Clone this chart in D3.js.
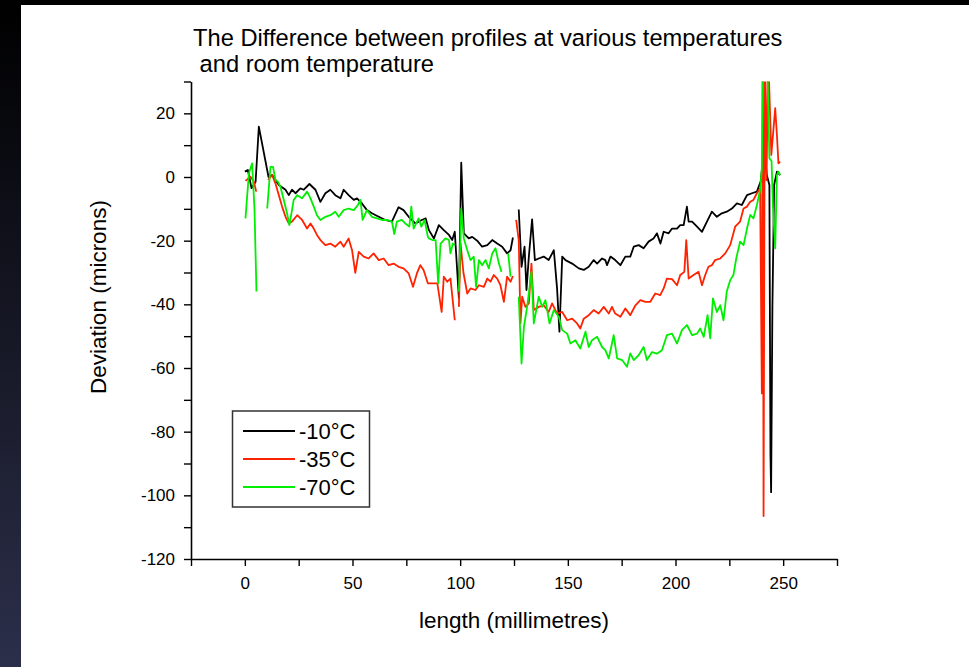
<!DOCTYPE html>
<html>
<head>
<meta charset="utf-8">
<script src="https://cdn.jsdelivr.net/npm/d3@7"></script>
<style>
  body { margin: 0; background: #000; }
  svg { display: block; }
  text { font-family: "Liberation Sans", Arial, sans-serif; fill: #000; }
</style>
</head>
<body>
<svg id="chart"></svg>
<script>
const width = 969;
const height = 667;

// Data: [length mm, deviation microns], null = break in the trace
const minus10 = [[0,1.7],[1.4,2.2],[3.1,-3.5],[5,-1.5],[6.5,15.8],[11,0],[12.7,0.6],[15.8,-2.5],[18.9,-4],[20.4,-5.7],[21.9,-4],[23.5,-5.1],[25.8,-3.6],[27.4,-4],[30,-2.2],[32.8,-4],[35.1,-7.8],[37.4,-5.1],[39.7,-4],[42,-5.7],[44.4,-6.7],[45.9,-4],[48.2,-5.7],[50.6,-7.2],[52.1,-6.7],[54.4,-8.3],[56.7,-10.4],[59,-11.4],[62.2,-12.5],[65.2,-13.5],[68.3,-14],[71.4,-9.5],[73.7,-10.4],[76.1,-12.5],[79.2,-14.6],[82.2,-13.5],[84,-13],[85.5,-16.7],[87.8,-19.3],[90.1,-15.1],[92.4,-16.7],[94.8,-18.2],[96.3,-19.8],[97.5,-17.2],[99.4,-38],[100.5,4.5],[101.7,-17.7],[104,-19.3],[105.6,-18.8],[107.9,-20],[110.2,-21.9],[112.6,-21.4],[114.9,-19.8],[117.2,-20.9],[119.5,-21.9],[121.8,-24],[123.4,-23],[124.5,-19],[125.5,null],[127.2,-10.2],[128.5,-28.2],[129.9,-21.9],[130.8,-35.5],[131.9,-25],[133.4,-13.3],[134.7,-26.1],[136.5,-25.6],[138.8,-25],[141.1,-26.1],[143.5,-23],[145,-35],[146.1,-48.6],[147.4,-25],[148.9,-26.1],[152,-27.2],[155.1,-28.7],[157.4,-29.2],[159.7,-28.2],[162,-26.1],[163.6,-27.2],[165.9,-25.6],[167.4,-26.1],[168.2,-27.7],[169.8,-25],[172,-26.1],[174.4,-27.7],[176.7,-25],[179,-25],[180.6,-21.9],[182.9,-21.4],[185.2,-22.4],[187.5,-20.3],[189.8,-19.3],[191.4,-17.7],[193,-20.9],[194.5,-17.2],[196.8,-17.7],[198.4,-16.2],[200.7,-16.2],[202.2,-15.1],[203.8,-15.1],[205.3,-9.3],[206.1,-14],[207.7,-14],[210,-15.6],[212.3,-17.2],[214.6,-14],[216.9,-10.9],[219.2,-12.5],[221.5,-11.4],[223.8,-10.9],[226.2,-9.9],[228.5,-8.3],[230.8,-8.8],[233.2,-5.7],[235.5,-5.1],[237.8,-4.6],[239.6,-1.3],[241.2,9.5],[242.4,0.6],[243.6,-2.5],[244.1,-87],[244.4,-99],[245,-41],[245.8,-2.5],[247.1,1.7],[248.6,0.6]];

const minus35 = [[0.3,-1.2],[2.6,0.1],[4.2,-1.5],[5.3,-4.6],[8,null],[10.8,-0.9],[12.7,0.6],[14.2,-2],[15.8,-5.7],[17.3,-9.3],[18.9,-12.5],[20.4,-14.6],[21.9,-14],[24.3,-12],[26.6,-13.5],[28.9,-16.2],[30.5,-14.6],[32,-16.2],[33.5,-18.2],[35.1,-19.8],[37.4,-21.4],[39.7,-20.9],[42,-21.9],[44.4,-20.3],[45.9,-21.9],[48.2,-19.3],[49.8,-23],[51.3,-30.1],[52.9,-23.5],[55.2,-25],[57.5,-25.6],[59.8,-24],[62.2,-26.1],[64.5,-25.6],[66.8,-27.7],[69.1,-27.2],[71.4,-28.2],[73.7,-28.7],[76.1,-30.3],[78.1,-34.5],[79.9,-30.3],[81.5,-27.7],[83,-29.2],[85,-33.4],[87.1,-33.4],[89.4,-33.4],[91.4,-42.4],[92.4,-31.3],[94,-32.9],[95.5,-31.9],[97.5,-45],[98.5,null],[99.4,-40.8],[100.2,-20.9],[101.5,-30],[103.3,-36.6],[104.8,-35],[107.1,-35.5],[108.7,-34],[111,-34.5],[112.6,-31.9],[114.1,-32.9],[115.6,-30.8],[117.2,-31.9],[118.7,-34],[120.3,-39.2],[121.8,-31.3],[123.4,-32.9],[124.5,-31.1],[125.3,null],[126,-13.5],[127.2,-19.8],[128,-46],[128.8,-37.6],[130.3,-40.8],[131.9,-39.7],[133.1,-27.2],[134.2,-41.8],[136.5,-40.8],[138.8,-40.3],[141.1,-42.4],[142.7,-39.7],[145,-42.9],[147.4,-42.4],[149.7,-45],[152,-44.5],[154.3,-46],[155.8,-47.6],[157.4,-44.5],[159.7,-43.4],[162,-41.8],[164.3,-42.9],[166.7,-40.8],[169,-42.9],[170.5,-40.8],[172,-42.9],[174.4,-43.9],[176.7,-41.3],[179,-43.4],[181.4,-40.3],[183.7,-38.7],[186,-39.2],[188.3,-39.2],[190.6,-36.6],[192.9,-37.1],[194.5,-35],[196,-31.9],[198.4,-32.1],[200.7,-34],[202.2,-30.8],[204.1,-29.8],[205,-19.8],[206.1,-31.9],[208.4,-30.8],[210.7,-29.8],[212.3,-34],[213.8,-30.8],[215.3,-28.2],[216.9,-27.7],[218.4,-26.1],[220.8,-25.6],[223.1,-24],[225.4,-21.4],[227.7,-15.6],[230,-14],[231.6,-9.9],[233.2,-9.3],[234.7,-7.8],[236.2,-7.2],[237.8,-5.1],[239.3,-3.6],[240.1,-68],[240.5,40],[240.9,-106.5],[241.5,40],[242.3,-1],[243,40],[244.5,6.9],[246.3,21.6],[247.1,13.2],[247.8,4.3],[248.6,4.8]];

const minus70 = [[0.3,-13],[1.9,1.2],[3.4,4.3],[4.5,-10.4],[5.4,-36],[8,null],[10.4,-9.9],[11.9,3.2],[13.1,3.2],[14.2,-0.9],[15.4,-1.5],[16.5,-3],[18.1,-7.2],[19.6,-11.4],[20.7,-15.1],[21.9,-10.4],[22.7,-7.2],[24.3,-5.7],[26.6,-6.7],[28.9,-4.6],[30.5,-6.7],[32,-9.3],[33.5,-12],[35.1,-13.5],[37.4,-12.5],[39.7,-12],[42,-10.9],[43.6,-12.5],[45.9,-10.4],[48.2,-9.9],[50.6,-10.4],[52.5,-8.8],[53.7,-7.2],[54.7,-13.5],[56.7,-10.4],[59,-12.5],[61.4,-13],[63.7,-13.5],[66,-13.5],[68.3,-14],[69.4,-17.9],[70.6,-14],[72.9,-13.5],[74.5,-14.6],[76.4,-15.6],[77.3,-9.3],[78.4,-16.2],[80.7,-13],[82,-15.6],[83.5,-13.5],[85,-18.8],[85.5,-19.3],[87.1,-19.8],[88.6,-19.8],[89.8,-33.4],[90.9,-20.9],[93.2,-19.3],[94.8,-19.8],[95.5,-24],[96.6,-20.9],[97.5,-21.4],[98.5,null],[99.4,-36],[100.5,-9.9],[101.7,-19.3],[103.3,-23],[104.8,-26.1],[106.3,-25],[107.4,-34.5],[108.7,-26.1],[110.2,-27.7],[111.8,-26.1],[113.3,-28.7],[114.9,-24],[116.4,-22.4],[118,-27.2],[119.2,-29.8],[120.5,null],[122.3,-24],[123.4,-31.3],[125.3,null],[127.2,-37.6],[128.5,-58.6],[129.6,-47.1],[131.1,-40.8],[133.1,-29.8],[134.2,-46],[136.5,-37.6],[138.1,-40.8],[139.6,-38.7],[141.5,-46],[143.5,-41.8],[145.8,-43.9],[147.4,-48.1],[149.7,-49.2],[151.2,-52.3],[153.5,-51.3],[155.8,-53.9],[158.2,-48.6],[159.7,-53.4],[161.2,-51.3],[163.6,-50.2],[165.9,-53.4],[167.4,-54.4],[169,-57],[170.5,-52.3],[171.3,-49.7],[172.9,-57],[175.2,-57.5],[177.5,-59.6],[179,-55.4],[180.6,-57.5],[182.9,-56],[185.2,-53.4],[186.7,-57.5],[189.1,-55],[191.4,-55.5],[193.7,-54.4],[196,-49.7],[198.4,-49.2],[200.7,-52.3],[203,-48.1],[205.3,-46.5],[207.7,-49.7],[210,-49.2],[211.5,-47.6],[213.1,-50.2],[214.9,-43.4],[216.1,-50.7],[217.4,-38.1],[219.2,-42.4],[220.8,-40.3],[222.3,-45],[223.8,-36],[225.4,-32.4],[226.9,-30.8],[228.2,-25.6],[230,-20.3],[231.6,-21.4],[233.2,-16.2],[234.7,-11.9],[236.2,-13],[237.8,-8.8],[239.3,-4.1],[240.1,2.7],[240.6,40],[241.5,40],[242.5,40],[243.6,5.9],[244.6,5],[245.3,-10],[246.3,-22.4],[247.1,0.6],[247.8,1.7],[248.6,0.6]];

const seriesNames = ["-10°C", "-35°C", "-70°C"];
const seriesColors = ["#000000", "#ff2200", "#00ee00"];
const seriesData = [minus10, minus35, minus70];

const xTicks = d3.range(-25, 276, 25);
const yTicks = d3.range(-120, 31, 10);

const svg = d3.select("#chart")
  .attr("width", width)
  .attr("height", height);

// Slide background: black with a bluish strip on the left
const defs = svg.append("defs");
const grad = defs.append("linearGradient")
  .attr("id", "strip")
  .attr("x1", 0).attr("y1", 0).attr("x2", 0).attr("y2", 1);
grad.append("stop").attr("offset", "0%").attr("stop-color", "#000000");
grad.append("stop").attr("offset", "100%").attr("stop-color", "#2c2f4a");

svg.append("rect").attr("width", width).attr("height", height).attr("fill", "#000");
svg.append("rect").attr("x", 0).attr("y", 0).attr("width", 21).attr("height", height).attr("fill", "url(#strip)");
svg.append("rect").attr("x", 21).attr("y", 5).attr("width", width - 21).attr("height", height - 5).attr("fill", "#fff");

// Plot area
const plot = { left: 191, right: 837, top: 81.5, bottom: 559 };

const x = d3.scaleLinear().domain([-25, 275]).range([plot.left, plot.right]);
const y = d3.scaleLinear().domain([-120, 30]).range([plot.bottom, plot.top]);

defs.append("clipPath").attr("id", "clip")
  .append("rect")
  .attr("x", plot.left).attr("y", plot.top)
  .attr("width", plot.right - plot.left).attr("height", plot.bottom - plot.top);

// Lines
const line = d3.line()
  .defined(d => d[1] !== null)
  .x(d => x(d[0]))
  .y(d => y(d[1]));

const lines = svg.append("g").attr("clip-path", "url(#clip)");
seriesData.forEach((data, i) => {
  lines.append("path")
    .datum(data)
    .attr("fill", "none")
    .attr("stroke", seriesColors[i])
    .attr("stroke-width", 1.8)
    .attr("stroke-linejoin", "round")
    .attr("d", line);
});

// Axes
const xAxis = svg.append("g")
  .attr("transform", `translate(0,${plot.bottom})`)
  .call(d3.axisBottom(x)
    .tickValues(xTicks)
    .tickSize(7)
    .tickSizeOuter(0)
    .tickPadding(11)
    .tickFormat(d => (d % 50 === 0 && d >= 0 && d <= 250) ? String(d) : ""));

const yAxis = svg.append("g")
  .attr("transform", `translate(${plot.left},0)`)
  .call(d3.axisLeft(y)
    .tickValues(yTicks)
    .tickSize(7)
    .tickSizeOuter(0)
    .tickPadding(9)
    .tickFormat(d => (d % 20 === 0 && d <= 20) ? String(d) : ""));

[xAxis, yAxis].forEach(ax => {
  ax.select(".domain").attr("stroke", "#000").attr("stroke-width", 1.6);
  ax.selectAll(".tick line").attr("stroke", "#000").attr("stroke-width", 1.4);
  ax.selectAll(".tick text")
    .attr("fill", "#000")
    .style("font-family", "'Liberation Sans', Arial, sans-serif")
    .style("font-size", "17px");
});

// Titles
svg.append("text")
  .attr("x", 193).attr("y", 46)
  .style("font-size", "23.7px")
  .text("The Difference between profiles at various temperatures");
svg.append("text")
  .attr("x", 193).attr("y", 72)
  .style("font-size", "23.7px")
  .attr("xml:space", "preserve")
  .text(" and room temperature");

svg.append("text")
  .attr("x", (plot.left + plot.right) / 2).attr("y", 628)
  .attr("text-anchor", "middle")
  .style("font-size", "22.5px")
  .text("length (millimetres)");

svg.append("text")
  .attr("transform", "translate(106,297) rotate(-90)")
  .attr("text-anchor", "middle")
  .style("font-size", "22.5px")
  .text("Deviation (microns)");

// Legend
const legend = svg.append("g");
legend.append("rect")
  .attr("x", 232.5).attr("y", 411)
  .attr("width", 137).attr("height", 96)
  .attr("fill", "#fff")
  .attr("stroke", "#333")
  .attr("stroke-width", 1.5);

seriesNames.forEach((name, i) => {
  const ly = 431 + i * 28;
  legend.append("line")
    .attr("x1", 243).attr("x2", 295)
    .attr("y1", ly).attr("y2", ly)
    .attr("stroke", seriesColors[i])
    .attr("stroke-width", 1.8);
  legend.append("text")
    .attr("x", 299).attr("y", ly)
    .attr("dy", "0.36em")
    .style("font-size", "22px")
    .text(name);
});
</script>
</body>
</html>
